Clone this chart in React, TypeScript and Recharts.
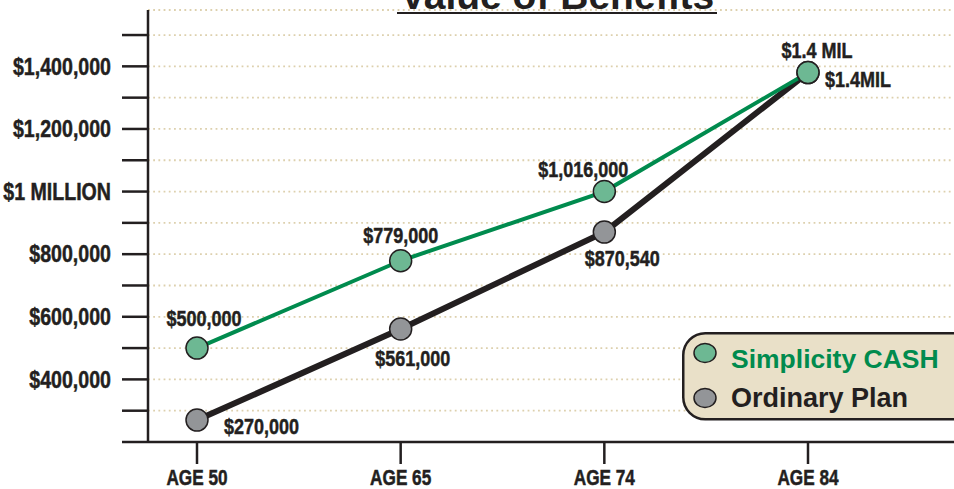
import { LineChart, Line, XAxis, YAxis, CartesianGrid, LabelList, Legend } from "recharts"

const ages = ["AGE 50", "AGE 65", "AGE 74", "AGE 84"]
const simplicityCash = [500000, 779000, 1000000, 1380000]
const ordinaryPlan = [270000, 561000, 870540, 1380000]
const simplicityLabels = ["$500,000", "$779,000", "$1,016,000", "$1.4 MIL"]
const ordinaryLabels = ["$270,000", "$561,000", "$870,540", "$1.4MIL"]
const yTicks = [
  200000, 300000, 400000, 500000, 600000, 700000, 800000, 900000, 1000000, 1100000, 1200000, 1300000, 1400000,
  1500000,
]
const yTickLabels: Record<number, string> = {
  400000: "$400,000",
  600000: "$600,000",
  800000: "$800,000",
  1000000: "$1 MILLION",
  1200000: "$1,200,000",
  1400000: "$1,400,000",
}

const data = ages.map((age, i) => ({ age, simplicity: simplicityCash[i], ordinary: ordinaryPlan[i] }))

const INK = "#231f20"
const GREEN = "#008b4e"
const GREEN_DOT = "#6db893"
const GREY_DOT = "#939598"
const WIDE = "'Liberation Sans', Arial, sans-serif"

// where each value label sits relative to its point
const simplicityPlace = [
  { dx: 7, dy: -30, anchor: "middle" },
  { dx: 0, dy: -25, anchor: "middle" },
  { dx: -21, dy: -22, anchor: "middle" },
  { dx: 9, dy: -22, anchor: "middle" },
]
const ordinaryPlace = [
  { dx: 27, dy: 6, anchor: "start" },
  { dx: 12, dy: 29, anchor: "middle" },
  { dx: 18, dy: 26, anchor: "middle" },
  { dx: 17, dy: 7, anchor: "start" },
]

// no condensed bold font installed, so squeeze the regular bold one
function Narrow({ x, y, anchor, size, baseline, children }: any) {
  return (
    <text
      transform={`translate(${x},${y}) scale(0.8,1)`}
      textAnchor={anchor}
      dominantBaseline={baseline}
      fill={INK}
      stroke={INK}
      strokeWidth={0.5}
      fontFamily={WIDE}
      fontWeight={700}
      fontSize={size}
    >
      {children}
    </text>
  )
}

function valueLabel(texts: string[], place: { dx: number; dy: number; anchor: string }[]) {
  return (props: any) => {
    const i = props.index
    const x = props.x ?? props.viewBox?.x
    const y = props.y ?? props.viewBox?.y
    const p = place[i]
    return (
      <Narrow x={x + p.dx} y={y + p.dy} anchor={p.anchor} baseline="central" size={22.5}>
        {texts[i]}
      </Narrow>
    )
  }
}

function YTick({ x, y, payload }: any) {
  const label = yTickLabels[payload.value]
  if (!label) return null
  return (
    <Narrow x={x} y={y} anchor="end" baseline="central" size={24.5}>
      {label}
    </Narrow>
  )
}

function XTick({ x, y, payload }: any) {
  return (
    <Narrow x={x} y={y + 15} anchor="middle" size={21.5}>
      {payload.value}
    </Narrow>
  )
}

function LegendBox() {
  return (
    <svg width={272} height={90} style={{ display: "block" }}>
      <rect x={1.25} y={1.25} width={300} height={86} rx={22} fill="#e9e0c8" stroke={INK} strokeWidth={2.5} />
      <ellipse cx={23} cy={21} rx={11} ry={9.5} fill={GREEN_DOT} stroke={INK} strokeWidth={1.5} />
      <text x={49} y={36} fill={GREEN} fontFamily={WIDE} fontWeight={700} fontSize={26.5}>
        Simplicity CASH
      </text>
      <ellipse cx={23} cy={66} rx={11} ry={9.5} fill={GREY_DOT} stroke={INK} strokeWidth={1.5} />
      <text x={49} y={75} fill={INK} fontFamily={WIDE} fontWeight={700} fontSize={27}>
        Ordinary Plan
      </text>
    </svg>
  )
}

export default function App() {
  return (
    <div style={{ position: "absolute", left: 0, top: 0, width: 954, height: 489, background: "#fff" }}>
      <LineChart width={954} height={489} data={data} margin={{ top: 10, right: 0, bottom: 0, left: 0 }}>
        <CartesianGrid vertical={false} stroke="#ddd0ad" strokeWidth={1.8} strokeDasharray="1.8 3.4" />
        <XAxis
          dataKey="age"
          height={47}
          padding={{ left: 49, right: 146 }}
          tickSize={22}
          tickMargin={6}
          axisLine={{ stroke: INK, strokeWidth: 2.5 }}
          tickLine={{ stroke: INK, strokeWidth: 2.5 }}
          tick={<XTick />}
          interval={0}
        />
        <YAxis
          type="number"
          width={148}
          domain={[200000, 1580000]}
          ticks={yTicks}
          interval={0}
          tickSize={26}
          tickMargin={11}
          axisLine={{ stroke: INK, strokeWidth: 2.5 }}
          tickLine={{ stroke: INK, strokeWidth: 2.5 }}
          tick={<YTick />}
        />
        <Legend
          layout="vertical"
          align="center"
          verticalAlign="middle"
          content={() => <LegendBox />}
          wrapperStyle={{ left: 682, top: 332, width: 272, height: 90 }}
        />
        <Line
          dataKey="ordinary"
          name="Ordinary Plan"
          stroke={INK}
          strokeWidth={6}
          dot={{ r: 11, fill: GREY_DOT, stroke: INK, strokeWidth: 1.5 }}
          activeDot={false}
          isAnimationActive={false}
        >
          <LabelList dataKey="ordinary" content={valueLabel(ordinaryLabels, ordinaryPlace)} />
        </Line>
        <Line
          dataKey="simplicity"
          name="Simplicity CASH"
          stroke={GREEN}
          strokeWidth={4}
          dot={{ r: 11, fill: GREEN_DOT, stroke: INK, strokeWidth: 1.5 }}
          activeDot={false}
          isAnimationActive={false}
        >
          <LabelList dataKey="simplicity" content={valueLabel(simplicityLabels, simplicityPlace)} />
        </Line>
      </LineChart>
      <svg width={954} height={30} style={{ position: "absolute", left: 0, top: 0, pointerEvents: "none" }}>
        <text x={557} y={9} textAnchor="middle" fill={INK} fontFamily={WIDE} fontWeight={700} fontSize={39}>
          Value of Benefits
        </text>
        <line x1={397} x2={717} y1={13} y2={13} stroke={INK} strokeWidth={2.2} />
      </svg>
    </div>
  )
}
